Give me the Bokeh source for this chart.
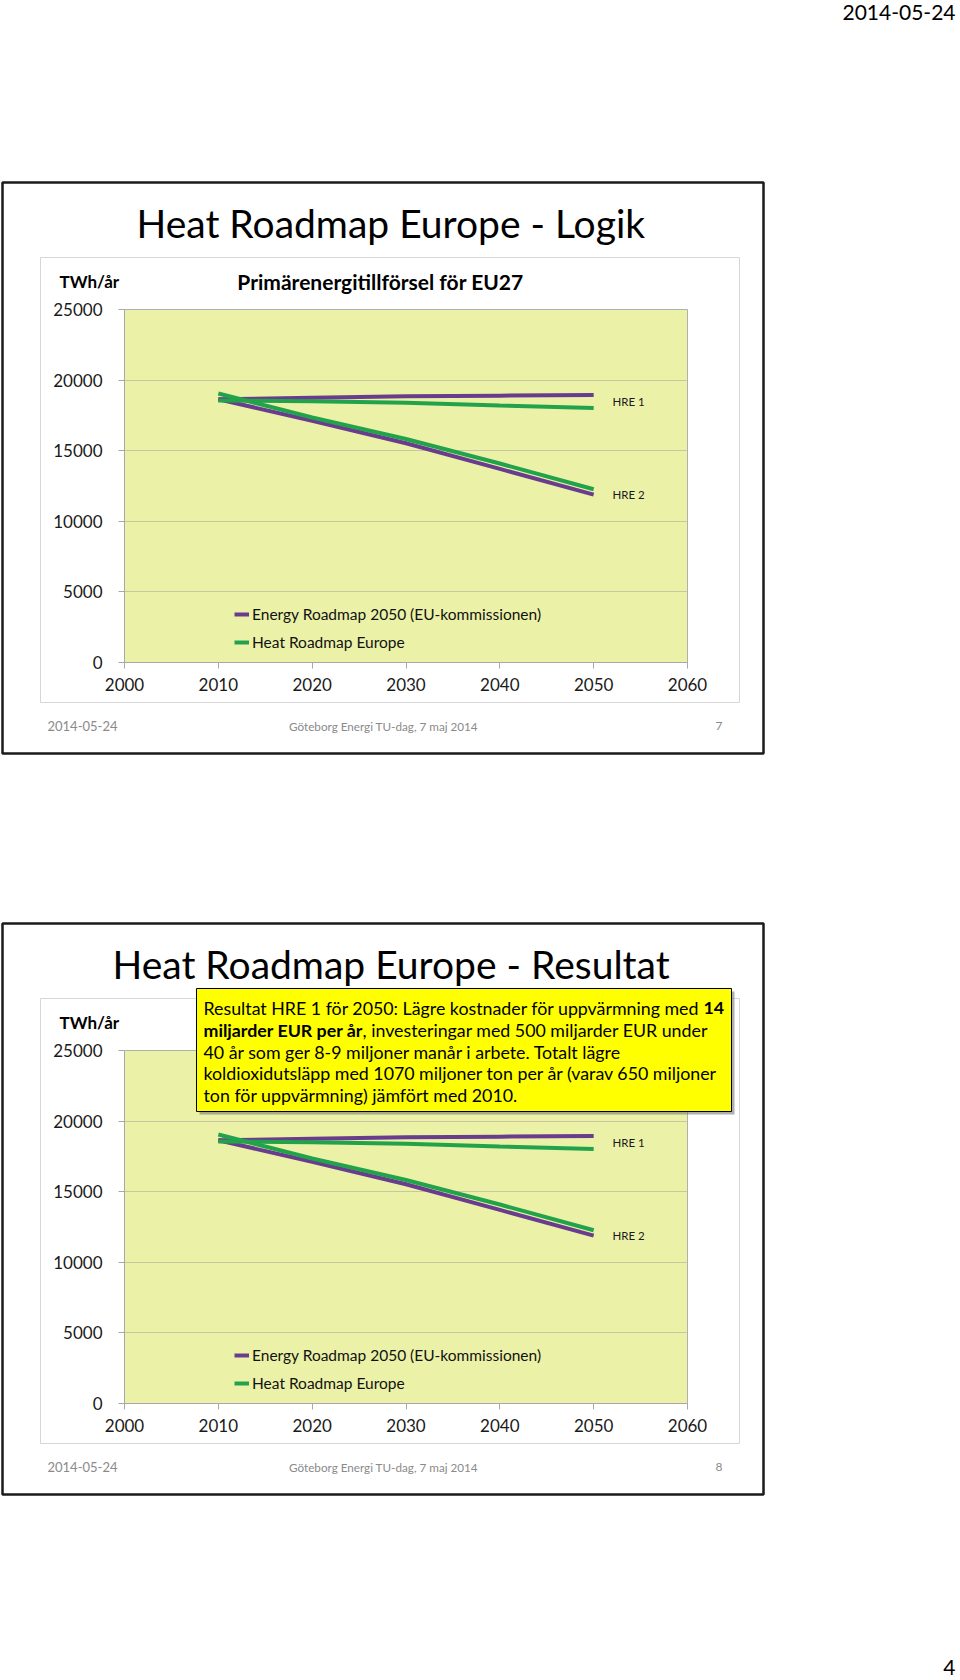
import glob
import re
from bokeh.plotting import figure
from bokeh.models import Label, BoxAnnotation, Legend, LegendItem, Range1d
from bokeh.layouts import column
from bokeh.embed import file_html
from bokeh.resources import INLINE

# ---------------- data ----------------
years = [2010, 2020, 2030, 2040, 2050]
erm_hre1 = [18640, 18750, 18850, 18900, 18940]   # Energy Roadmap 2050, HRE 1 pair
hre_hre1 = [18560, 18500, 18400, 18200, 18030]   # Heat Roadmap Europe, HRE 1 pair
erm_hre2 = [18640, 17120, 15530, 13710, 11890]   # Energy Roadmap 2050, HRE 2 pair
hre_hre2 = [19050, 17350, 15830, 14090, 12270]   # Heat Roadmap Europe, HRE 2 pair
x_ticks = [2000, 2010, 2020, 2030, 2040, 2050, 2060]
y_ticks = [0, 5000, 10000, 15000, 20000, 25000]
legend_labels = ["Energy Roadmap 2050 (EU-kommissionen)", "Heat Roadmap Europe"]
scenario_labels = ["HRE 1", "HRE 2"]
slide_titles = ["Heat Roadmap Europe - Logik", "Heat Roadmap Europe - Resultat"]
chart_title = "Primärenergitillförsel för EU27"
unit_label = "TWh/år"
footer_date = "2014-05-24"
footer_event = "Göteborg Energi TU-dag, 7 maj 2014"
slide_numbers = ["7", "8"]
page_number = "4"
# each line of the result box: list of (text, bold) runs
box_lines = [
    [("Resultat HRE 1 för 2050: Lägre kostnader för uppvärmning med ", False), ("14", True)],
    [("miljarder EUR  per år", True), (", investeringar med 500 miljarder EUR under", False)],
    [("40 år som ger 8-9 miljoner manår i arbete. Totalt lägre", False)],
    [("koldioxidutsläpp med 1070 miljoner ton per år (varav 650 miljoner", False)],
    [("ton för uppvärmning) jämfört med 2010.", False)],
]

# ---------------- style ----------------
FONT = "Lato"
PURPLE = "#693c8d"
GREEN = "#22a34b"
PLOT_BG = "#ecf1a8"
GRID = "#c9c7a3"
AXIS = "#a8a8a8"
W = 958
HT = 1678
H1 = 832
H2 = HT - H1
FL = 124          # plot-frame left (px)
FW = 563
FH = 353
SLIDE_DY = 741    # vertical distance between the two slides
BOX_FS = 17.8

# text measurement (for placing bold runs next to normal runs)
_fonts = {}
try:
    from PIL import ImageFont
    for key, name in ((False, "Lato-Regular.ttf"), (True, "Lato-Bold.ttf")):
        hits = glob.glob("/usr/share/fonts/**/" + name, recursive=True) + \
               glob.glob("/usr/local/share/fonts/**/" + name, recursive=True)
        if hits:
            _fonts[key] = ImageFont.truetype(hits[0], 100)
except Exception:
    _fonts = {}


def text_width(text, size, bold):
    text = re.sub(" +", " ", text)   # the SVG text collapses repeated spaces
    f = _fonts.get(bold)
    if f is not None:
        try:
            return f.getlength(text) * size / 100.0
        except Exception:
            pass
    return len(text) * size * (0.53 if bold else 0.5)


def build_chart(ft_canvas, H):
    p = figure(frame_width=FW, frame_height=FH,
               min_border_left=FL, min_border_right=W - FL - FW,
               min_border_top=ft_canvas, min_border_bottom=H - ft_canvas - FH,
               x_range=Range1d(x_ticks[0], x_ticks[-1]),
               y_range=Range1d(y_ticks[0], y_ticks[-1]),
               output_backend="svg", toolbar_location=None,
               background_fill_color=PLOT_BG, border_fill_color="white",
               outline_line_color="#b0b0b0")
    for ax in (p.xaxis[0], p.yaxis[0]):
        ax.axis_line_color = AXIS
        ax.major_tick_line_color = AXIS
        ax.minor_tick_line_color = None
        ax.major_tick_out = 6
        ax.major_tick_in = 0
        ax.major_label_text_font = FONT
        ax.major_label_text_font_size = "17px"
        ax.major_label_text_color = "#1a1a1a"
    p.xaxis.ticker = x_ticks
    p.yaxis.ticker = y_ticks
    p.xaxis.major_label_standoff = 9
    p.yaxis.major_label_standoff = 16
    p.xgrid.grid_line_color = None
    p.ygrid.grid_line_color = GRID
    p.ygrid.ticker = y_ticks

    r_p1 = p.line(years, erm_hre1, line_color=PURPLE, line_width=4)
    p.line(years, erm_hre2, line_color=PURPLE, line_width=4)
    r_g1 = p.line(years, hre_hre1, line_color=GREEN, line_width=4)
    p.line(years, hre_hre2, line_color=GREEN, line_width=4)

    legend = Legend(items=[LegendItem(label=legend_labels[0], renderers=[r_p1]),
                           LegendItem(label=legend_labels[1], renderers=[r_g1])],
                    location=(110, 10), orientation="vertical",
                    glyph_width=15, glyph_height=20, label_height=20,
                    label_standoff=3, spacing=8, padding=0, margin=0,
                    background_fill_alpha=0.0, border_line_alpha=0.0,
                    label_text_font=FONT, label_text_font_size="15.5px",
                    label_text_color="#111111")
    p.add_layout(legend)

    for lbl, a, b, off in ((scenario_labels[0], erm_hre1, hre_hre1, 0),
                           (scenario_labels[1], erm_hre2, hre_hre2, -3)):
        p.add_layout(Label(x=years[-1] + 2, y=(a[-1] + b[-1]) / 2, y_offset=off,
                           text=lbl, text_font=FONT, text_font_size="11.5px",
                           text_baseline="middle", text_color="#1a1a1a"))
    return p


p1 = build_chart(309, H1)
p2 = build_chart(309 + SLIDE_DY - H1, H2)

# ---------------- overlay with the slide decorations ----------------
ov = figure(frame_width=W, frame_height=HT,
            x_range=Range1d(0, W), y_range=Range1d(HT, 0),
            x_axis_type=None, y_axis_type=None, min_border=0,
            toolbar_location=None, output_backend="svg",
            background_fill_alpha=0.0, border_fill_alpha=0.0,
            outline_line_color=None)
if "frame_align" in ov.properties():
    ov.frame_align = False
ov.margin = (-HT, 0, 0, 0)


def lab(x, y, text, size, align="left", bold=False, color="#000000"):
    ov.add_layout(Label(x=x, y=y, text=text, text_font=FONT, text_font_size=size,
                        text_align=align, text_baseline="middle",
                        text_font_style="bold" if bold else "normal",
                        text_color=color))


def box(l, r, t, b, fill=None, line="#000000", lw=1.0, alpha=1.0):
    ov.add_layout(BoxAnnotation(left=l, right=r, top=t, bottom=b,
                                fill_color=fill if fill else "white",
                                fill_alpha=alpha if fill else 0.0,
                                line_color=line if line else "white",
                                line_width=lw, line_alpha=1.0 if line else 0.0))


lab(955, 12, footer_date, "21px", align="right")
lab(955, 1667, page_number, "21px", align="right")

for i in range(2):
    d = i * SLIDE_DY
    box(2, 763, 182 + d, 753 + d, line="#1a1a1a", lw=2.5)
    box(40, 739, 257 + d, 702 + d, line="#d6d6d6", lw=1.0)
    lab(136 if i == 0 else 112, 222 + d, slide_titles[i], "39px")
    if i == 0:
        lab(380, 281 + d, chart_title, "21px", align="center", bold=True)
    lab(59, 281 + d, unit_label, "17px", bold=True)
    lab(47, 725 + d, footer_date, "13px", color="#8a8a8a")
    lab(383, 725 + d, footer_event, "11.7px", align="center", color="#8a8a8a")
    lab(715, 725 + d, slide_numbers[i], "12px", color="#8a8a8a")

# result box on slide 2
d = SLIDE_DY
box(199, 734, 250 + d, 373 + d, fill="#7a7a7a", line=None, alpha=0.6)
box(196, 731, 247 + d, 370 + d, fill="#ffff00", line="#000000", lw=1.0)
ys = [266, 288, 310, 331, 353]
for runs, yy in zip(box_lines, ys):
    x = 203
    for text, bold in runs:
        lab(x, yy + d, text, "%.1fpx" % BOX_FS, bold=bold)
        x += text_width(text, BOX_FS, bold)

layout = column(p1, p2, ov, spacing=0)
open("out.html", "w").write(file_html(layout, INLINE))
